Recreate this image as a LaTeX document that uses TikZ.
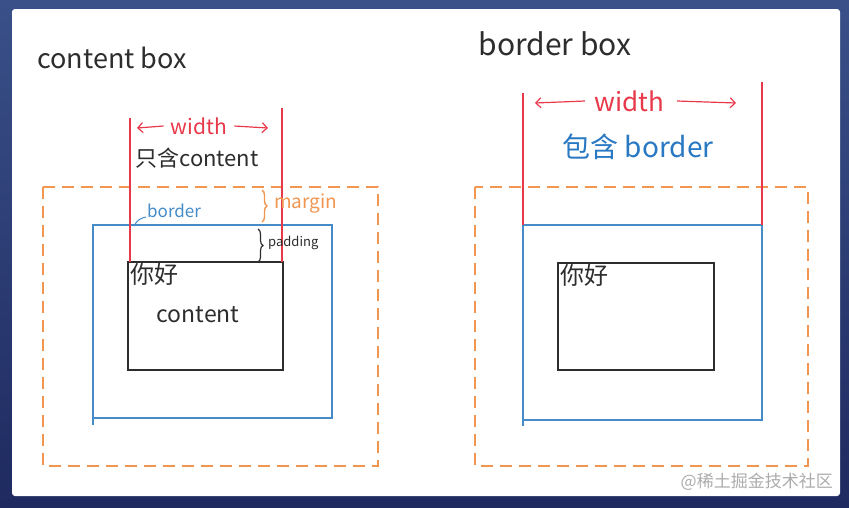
\documentclass[tikz,border=0pt]{standalone}
\usepackage{fontspec}
\setmainfont{Noto Sans CJK SC}
\usetikzlibrary{arrows.meta,decorations.pathreplacing}
\definecolor{inkred}{RGB}{232,57,74}
\definecolor{inkorange}{RGB}{240,150,80}
\definecolor{inkblue}{RGB}{70,140,200}
\definecolor{textblue}{RGB}{40,120,195}
\definecolor{ink}{RGB}{45,45,45}
\definecolor{frametop}{RGB}{58,80,136}
\definecolor{framebottom}{RGB}{30,42,96}
\newcommand{\fsz}[1]{\fontsize{#1}{#1}\selectfont}

\tikzset{
  marginline/.style={draw=inkorange, line width=1.4pt, dash pattern=on 12pt off 7pt},
  borderline/.style={draw=inkblue, line width=1.4pt},
  contentline/.style={draw=ink, line width=1.1pt},
  widthline/.style={draw=inkred, line width=1.2pt},
  widtharrow/.style={draw=inkred, line width=1.2pt, -{Straight Barb[length=5pt,width=10pt]}},
  hand/.style={text=ink, inner sep=0pt},
}

\begin{document}
\begin{tikzpicture}[x=1pt,y=1pt,yscale=-1]
\useasboundingbox (0,0) rectangle (849,507);

%Shape: Frame
\shade [top color=frametop, bottom color=framebottom] (0,0) rectangle (849,507);
\fill [white, rounded corners=3pt] (12,9) rectangle (840,496);

%%%%%%%%%% content box (left)
% Text Node
\node [hand, font=\fsz{27}] (contenttitle) at (112,58) {content box};

%Shape: Rectangle [margin]
\draw [marginline] (43,187) rectangle (378,466);
%Shape: Polygon [border]
\draw [borderline] (93,425) -- (93,225) -- (332,225) -- (332,418) -- (93,418);
%Shape: Rectangle [content]
\draw [contentline] (128,262) rectangle (283,370);

%Straight Lines [width]
\draw [widthline] (130,118) -- (130,262);
\draw [widthline] (282,108) -- (282,262);

% Text Node
\node [text=inkred, inner sep=0pt, font=\fsz{21}] (lwidth) at (199,126) {width};
\coordinate (lwidthl) at (137,128);
\coordinate (lwidthr) at (268,128);
\draw [widtharrow] ([xshift=-7pt]lwidth.west) -- (lwidthl);
\draw [widtharrow] ([xshift=7pt]lwidth.east) -- (lwidthr);

% Text Node
\node [hand, font=\fsz{22}] (lonly) at (197,158) {只含content};

% Text Node
\node [text=inkblue, inner sep=0pt, anchor=west, font=\fsz{17}] (lborder) at (147,211) {border};
\draw [borderline, line width=1pt] (134,226) .. controls (137,220) and (141,218) .. (146,217);

%Brace [margin]
\draw [inkorange, line width=1.4pt, decorate, decoration={brace, amplitude=5pt}] (262,190) -- (262,222);
% Text Node
\node [text=inkorange, inner sep=0pt, anchor=west, font=\fsz{19}] (lmargin) at (274,204) {margin};

%Brace [padding]
\draw [ink, line width=1.2pt, decorate, decoration={brace, amplitude=5pt}] (258,229) -- (258,262);
% Text Node
\node [hand, anchor=west, font=\fsz{13}] (lpadding) at (268,243) {padding};

% Text Node
\node [hand, anchor=north west, font=\fsz{24}] (lhello) at (130,263) {你好};
% Text Node
\node [hand, font=\fsz{23}] (lcontent) at (198,315) {content};

%%%%%%%%%% border box (right)
% Text Node
\node [hand, font=\fsz{30}] (bordertitle) at (555,44) {border box};

%Shape: Rectangle [margin]
\draw [marginline] (475,187) rectangle (808,466);
%Shape: Polygon [border]
\draw [borderline] (523,426) -- (523,225) -- (762,225) -- (762,420) -- (523,420);
%Shape: Rectangle [content]
\draw [contentline] (558,263) rectangle (714,370);

%Straight Lines [width]
\draw [widthline] (523,93) -- (523,225);
\draw [widthline] (762,82) -- (762,225);

% Text Node
\node [text=inkred, inner sep=0pt, font=\fsz{26}] (rwidth) at (629,101) {width};
\coordinate (rwidthl) at (535,103);
\coordinate (rwidthr) at (736,103);
\draw [widtharrow] ([xshift=-9pt]rwidth.west) -- (rwidthl);
\draw [widtharrow] ([xshift=13pt]rwidth.east) -- (rwidthr);

% Text Node
\node [text=textblue, inner sep=0pt, font=\fsz{28}] (rwith) at (638,147) {包含 border};

% Text Node
\node [hand, anchor=north west, font=\fsz{24}] (rhello) at (560,264) {你好};

% Text Node
\node [text=gray!65, inner sep=0pt, anchor=east, font=\fsz{17}] (watermark) at (833,482) {@稀土掘金技术社区};

\end{tikzpicture}
\end{document}
